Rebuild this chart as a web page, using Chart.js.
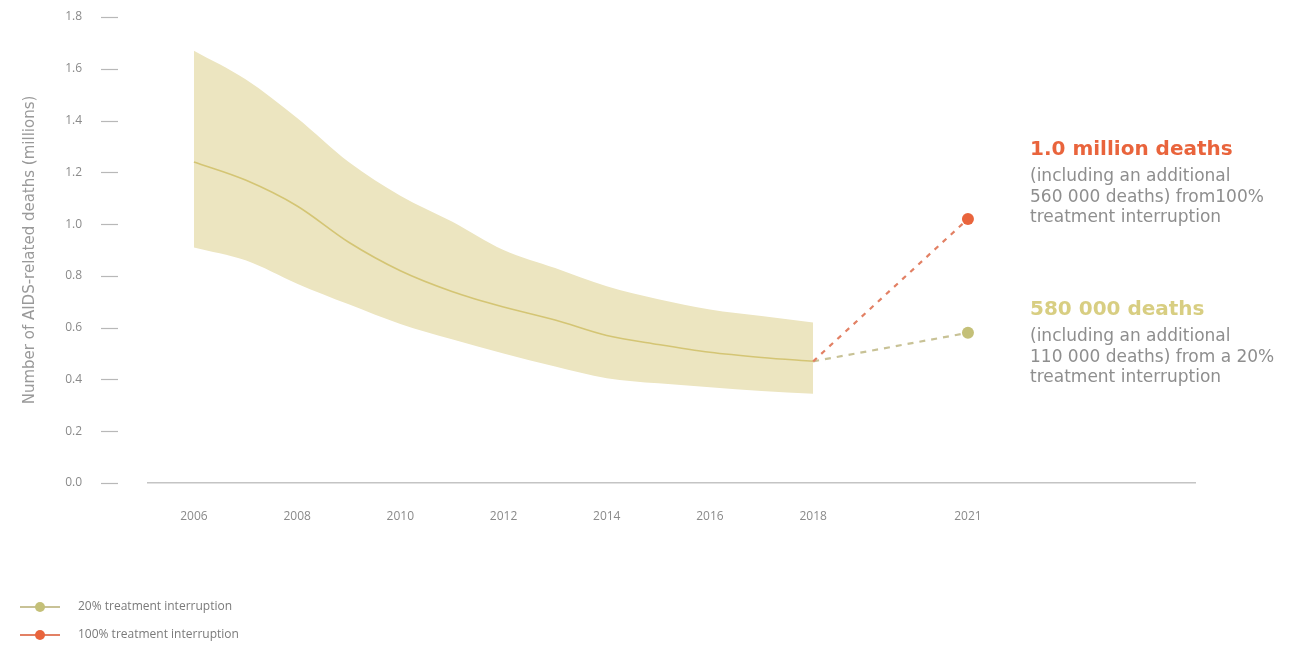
<!DOCTYPE html>
<html>
<head>
<meta charset="utf-8">
<script src="https://cdn.jsdelivr.net/npm/chart.js@4"></script>
<style>
  html, body { margin: 0; padding: 0; background: #fff; }
  #wrap { width: 1301px; height: 651px; position: relative; }
</style>
</head>
<body>
<div id="wrap"><canvas id="c" width="1301" height="651"></canvas></div>
<script>
// ---- data ----
const years   = [2006, 2007, 2008, 2009, 2010, 2011, 2012, 2013, 2014, 2015, 2016, 2017, 2018];
const upper   = [1.67, 1.56, 1.41, 1.24, 1.11, 1.01, 0.90, 0.83, 0.76, 0.71, 0.67, 0.645, 0.62];
const central = [1.24, 1.17, 1.07, 0.93, 0.82, 0.74, 0.68, 0.63, 0.57, 0.535, 0.505, 0.485, 0.47];
const lower   = [0.91, 0.86, 0.77, 0.69, 0.614, 0.555, 0.50, 0.45, 0.405, 0.385, 0.37, 0.355, 0.345];
const projYears = [2018, 2021];
const proj20    = [0.47, 0.58];
const proj100   = [0.47, 1.02];
const xTickYears = [2006, 2008, 2010, 2012, 2014, 2016, 2018, 2021];
const yTickValues = [0, 0.2, 0.4, 0.6, 0.8, 1.0, 1.2, 1.4, 1.6, 1.8];
const legendLabels = ['20% treatment interruption', '100% treatment interruption'];
const yTitle = 'Number of AIDS-related deaths (millions)';
const notes = [
  { head: '1.0 million deaths', lines: ['(including an additional', '560 000 deaths) from100%', 'treatment interruption'] },
  { head: '580 000 deaths', lines: ['(including an additional', '110 000 deaths) from a 20%', 'treatment interruption'] }
];

// ---- styles ----
const C_BAND = 'rgb(236,229,192)';
const C_LINE = 'rgb(212,197,116)';
const C_20 = 'rgb(200,194,150)';
const C_20PT = 'rgb(196,192,120)';
const C_100 = 'rgb(226,128,100)';
const C_100PT = 'rgb(233,100,60)';
const FONT = '"Open Sans", "DejaVu Sans", sans-serif';
const WIDE = '"DejaVu Sans", sans-serif';

const toXY = (xs, ys) => xs.map((x, i) => ({ x: x, y: ys[i] }));

const extras = {
  id: 'extras',
  afterDraw(chart) {
    const ctx = chart.ctx;
    const ys = chart.scales.y;
    ctx.save();
    // y tick dashes
    ctx.strokeStyle = '#b8b8b8';
    ctx.lineWidth = 1.2;
    yTickValues.forEach(v => {
      const py = Math.round(ys.getPixelForValue(v)) + 0.5;
      ctx.beginPath();
      ctx.moveTo(101, py);
      ctx.lineTo(118, py);
      ctx.stroke();
    });
    // annotations
    const noteX = 1030;
    const noteColors = [C_100PT, 'rgb(216,206,130)'];
    const headY = [150, 310];
    notes.forEach((n, k) => {
      ctx.textAlign = 'left';
      ctx.textBaseline = 'middle';
      ctx.fillStyle = noteColors[k];
      ctx.font = 'bold 20px ' + WIDE;
      ctx.fillText(n.head, noteX, headY[k]);
      ctx.fillStyle = '#8e8e8e';
      ctx.font = '17px ' + WIDE;
      n.lines.forEach((l, i) => ctx.fillText(l, noteX, headY[k] + 27 + i * 20.5));
    });
    // legend
    const legColors = [[C_20, C_20PT], [C_100, C_100PT]];
    const legY = [607, 635];
    legendLabels.forEach((lab, i) => {
      const y = legY[i];
      ctx.strokeStyle = legColors[i][0];
      ctx.lineWidth = 2;
      ctx.beginPath();
      ctx.moveTo(20, y);
      ctx.lineTo(60, y);
      ctx.stroke();
      ctx.fillStyle = legColors[i][1];
      ctx.beginPath();
      ctx.arc(40, y, 5, 0, Math.PI * 2);
      ctx.fill();
      ctx.fillStyle = '#7a7a7a';
      ctx.font = '12px ' + FONT;
      ctx.textAlign = 'left';
      ctx.textBaseline = 'middle';
      ctx.fillText(lab, 78, y);
    });
    ctx.restore();
  }
};

new Chart(document.getElementById('c'), {
  type: 'line',
  data: {
    datasets: [
      { label: 'upper', data: toXY(years, upper), borderWidth: 0, pointRadius: 0, fill: false,
        backgroundColor: C_BAND, borderColor: 'rgba(0,0,0,0)', cubicInterpolationMode: 'monotone', order: 5 },
      { label: 'lower', data: toXY(years, lower), borderWidth: 0, pointRadius: 0, fill: '-1',
        backgroundColor: C_BAND, borderColor: 'rgba(0,0,0,0)', cubicInterpolationMode: 'monotone', order: 4 },
      { label: 'central', data: toXY(years, central), borderColor: C_LINE, borderWidth: 1.6, pointRadius: 0,
        fill: false, cubicInterpolationMode: 'monotone', order: 3 },
      { label: legendLabels[0], data: toXY(projYears, proj20), borderColor: C_20, borderWidth: 2.2,
        borderDash: [6, 6], pointRadius: [0, 6], pointBackgroundColor: C_20PT, pointBorderWidth: 0, fill: false, order: 2 },
      { label: legendLabels[1], data: toXY(projYears, proj100), borderColor: C_100, borderWidth: 2.2,
        borderDash: [5, 6], pointRadius: [0, 6], pointBackgroundColor: C_100PT, pointBorderWidth: 0, fill: false, order: 1 }
    ]
  },
  options: {
    responsive: false,
    animation: false,
    layout: { padding: { top: 17, right: 106, bottom: 120, left: 0 } },
    plugins: { legend: { display: false }, tooltip: { enabled: false } },
    scales: {
      x: {
        type: 'linear',
        min: 2005.11,
        max: 2025.40,
        afterBuildTicks: s => { s.ticks = xTickYears.map(v => ({ value: v })); },
        afterFit: s => { s.height = 48; s.paddingLeft = 0; s.paddingRight = 0; },
        grid: { display: false, drawTicks: false },
        border: { display: true, color: '#c4c4c4', width: 1.5 },
        ticks: { padding: 26, color: '#8a8a8a', font: { family: FONT, size: 12 }, callback: v => String(v), maxRotation: 0, autoSkip: false }
      },
      y: {
        min: 0,
        max: 1.8,
        afterBuildTicks: s => { s.ticks = yTickValues.map(v => ({ value: v })); },
        afterFit: s => { s.width = 148; s.paddingTop = 8; s.paddingBottom = 8; },
        grid: { display: false, drawTicks: false },
        border: { display: false },
        ticks: { padding: 66, color: '#8a8a8a', font: { family: FONT, size: 12 }, callback: v => v.toFixed(1) },
        title: { display: true, text: yTitle, color: '#999999', font: { family: WIDE, size: 15 }, padding: { top: 21, bottom: 0 } }
      }
    }
  },
  plugins: [extras]
});
</script>
</body>
</html>
